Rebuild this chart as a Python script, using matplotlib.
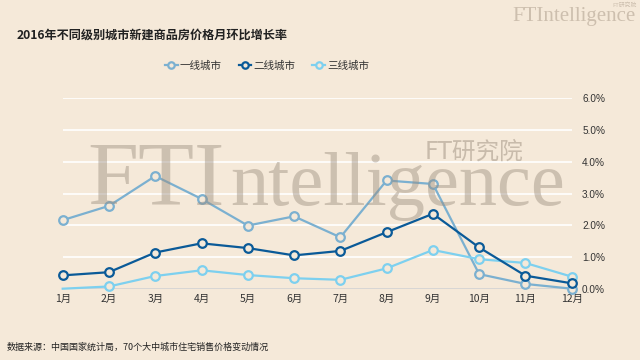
import matplotlib
matplotlib.use("Agg")
import matplotlib.pyplot as plt

plt.rcParams['font.family'] = ['Noto Sans CJK SC', 'DejaVu Sans']

months = ["1月", "2月", "3月", "4月", "5月", "6月", "7月", "8月", "9月", "10月", "11月", "12月"]
tier1 = [2.16, 2.61, 3.55, 2.83, 1.99, 2.28, 1.62, 3.41, 3.30, 0.46, 0.15, 0.00]
tier2 = [0.42, 0.52, 1.14, 1.43, 1.28, 1.05, 1.19, 1.78, 2.36, 1.30, 0.41, 0.17]
tier3 = [0.00, 0.07, 0.40, 0.58, 0.43, 0.33, 0.28, 0.64, 1.22, 0.93, 0.81, 0.38]
series_names = ["一线城市", "二线城市", "三线城市"]
yticks = [0, 1, 2, 3, 4, 5, 6]
ytick_labels = ["0.0%", "1.0%", "2.0%", "3.0%", "4.0%", "5.0%", "6.0%"]

bg = "#F5E9D9"
colors = ["#7BB0D0", "#0A5A98", "#7DD0EF"]

fig = plt.figure(figsize=(6.4, 3.6), dpi=100, facecolor=bg)
ax = fig.add_axes([62.7 / 640, 1 - 288.7 / 360, (571.7 - 62.7) / 640, (288.7 - 98.3) / 360])
ax.set_facecolor(bg)

x = list(range(len(months)))
for i, (vals, name, c) in enumerate(zip([tier1, tier2, tier3], series_names, colors)):
    kw = {}
    if i == 2:
        kw['markevery'] = list(range(1, len(months)))
    ax.plot(x, vals, color=c, lw=1.6, marker='o', ms=6.2, mfc=bg, mec=c, mew=1.6,
            label=name, clip_on=False, zorder=3 + (1 if i == 1 else 0), **kw)

ax.set_xlim(0, 11)
ax.set_ylim(0, 6)
for s in ax.spines.values():
    s.set_visible(False)
for yv in yticks[1:]:
    ax.axhline(yv, color='white', lw=1.2, zorder=1)
ax.axhline(0, color='#D3D3D3', lw=1.2, zorder=1)

ax.set_xticks(x)
ax.set_xticklabels(months, fontsize=7.5, color='#333333')
ax.set_yticks(yticks)
ax.set_yticklabels(ytick_labels, fontsize=7.2, color='#333333', family=['Liberation Sans'])
ax.yaxis.tick_right()
ax.tick_params(axis='both', length=0)
ax.tick_params(axis='y', pad=7.5)
ax.tick_params(axis='x', pad=4)

# watermark
wm_color = '#9C8E7E'
fig.text(87 / 640, 1 - 205 / 360, "FTI", family='Liberation Serif', fontsize=66,
         color=wm_color, alpha=0.45, ha='left', va='baseline', zorder=10)
fig.text(230 / 640, 1 - 205 / 360, "ntelligence", family='Liberation Serif', fontsize=55,
         color=wm_color, alpha=0.45, ha='left', va='baseline', zorder=10)
fig.text(425 / 640, 1 - 152 / 360, "FT研究院", fontsize=17, color=wm_color, alpha=0.5,
         ha='left', va='center', zorder=10, family=['DejaVu Sans', 'Noto Sans CJK SC'])

# top-right logo
fig.text(512 / 640, 1 - 21 / 360, "FTIntelligence", family='Liberation Serif', fontsize=15,
         color='#CDBFAE', ha='left', va='baseline')
fig.text(637 / 640, 1 - 5 / 360, "FT研究院", fontsize=4.2, color='#CDBFAE', ha='right', va='center')

fig.text(17 / 640, 1 - 35 / 360, "2016年不同级别城市新建商品房价格月环比增长率", fontsize=8.75,
         fontweight='bold', color='#222222', ha='left', va='center')

leg = fig.legend(loc='center', bbox_to_anchor=(267 / 640, 1 - 66 / 360), ncol=3, frameon=False,
                 fontsize=7.6, handlelength=1.2, handletextpad=0.2, columnspacing=1.6,
                 labelcolor='#333333', markerscale=0.75)

fig.text(7 / 640, 1 - 347 / 360, "数据来源：中国国家统计局，70个大中城市住宅销售价格变动情况", fontsize=6.5,
         color='#222222', ha='left', va='center')

fig.savefig("out.png", dpi=100, facecolor=bg)
